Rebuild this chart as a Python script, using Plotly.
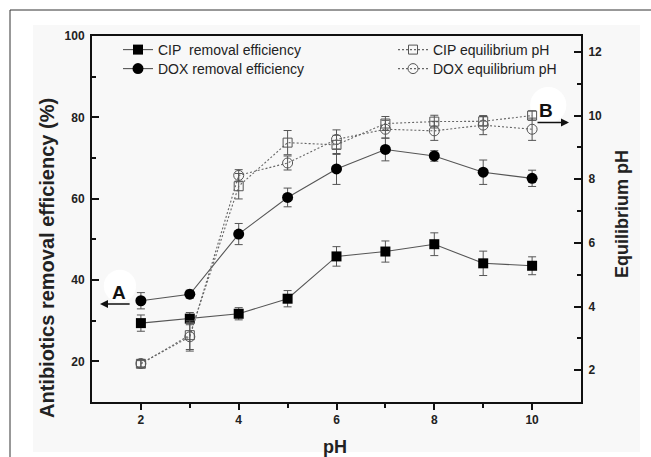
import plotly.graph_objects as go

ph = [2, 3, 4, 5, 6, 7, 8, 9, 10]

cip_removal = [29.4, 30.5, 31.7, 35.4, 45.8, 47.0, 48.8, 44.1, 43.5]
cip_removal_err = [2.0, 1.5, 1.5, 2.0, 2.4, 2.6, 2.8, 3.0, 2.2]
dox_removal = [34.9, 36.5, 51.3, 60.3, 67.3, 72.1, 70.5, 66.5, 65.0]
dox_removal_err = [2.0, 1.0, 2.6, 2.3, 3.8, 2.8, 1.3, 3.0, 2.0]

cip_eq = [2.2, 3.1, 7.78, 9.15, 9.08, 9.75, 9.81, 9.82, 10.0]
cip_eq_err = [0.1, 0.45, 0.4, 0.38, 0.3, 0.22, 0.2, 0.15, 0.15]
dox_eq = [2.21, 3.05, 8.12, 8.51, 9.25, 9.57, 9.52, 9.70, 9.57]
dox_eq_err = [0.12, 0.45, 0.18, 0.22, 0.3, 0.28, 0.3, 0.3, 0.35]

x_ticks = [2, 4, 6, 8, 10]
left_ticks = [20, 40, 60, 80, 100]
right_ticks = [2, 4, 6, 8, 10, 12]

GRAY = "#555555"
BG = "#f8f8f8"

fig = go.Figure()

def err(vals):
    return dict(type="data", array=vals, visible=True, color=GRAY, thickness=1, width=4)

fig.add_trace(go.Scatter(
    x=ph, y=cip_removal, error_y=err(cip_removal_err), mode="lines+markers",
    name="CIP\u00a0 removal efficiency", legend="legend",
    line=dict(color=GRAY, width=1.1),
    marker=dict(symbol="square", size=10, color="black"),
))
fig.add_trace(go.Scatter(
    x=ph, y=dox_removal, error_y=err(dox_removal_err), mode="lines+markers",
    name="DOX removal efficiency", legend="legend2",
    line=dict(color=GRAY, width=1.1),
    marker=dict(symbol="circle", size=11, color="black"),
))
fig.add_trace(go.Scatter(
    x=ph, y=cip_eq, error_y=err(cip_eq_err), mode="lines+markers", yaxis="y2",
    name="CIP equilibrium pH", legend="legend3",
    line=dict(color="#666666", width=1.1, dash="2px,2px"),
    marker=dict(symbol="square-open", size=9, color="#555555", line=dict(width=1)),
))
fig.add_trace(go.Scatter(
    x=ph, y=dox_eq, error_y=err(dox_eq_err), mode="lines+markers", yaxis="y2",
    name="DOX equilibrium pH", legend="legend4",
    line=dict(color="#666666", width=1.1, dash="2px,2px"),
    marker=dict(symbol="circle-open", size=10, color="#555555", line=dict(width=1)),
))

tickfont = dict(family="Arial", size=12, color="#222", weight="bold")


def leg(x_px, top_px):
    return dict(x=(x_px - 92) / 489, y=1 - (top_px - 36) / 366, xanchor="left", yanchor="top",
                bgcolor="rgba(0,0,0,0)", font=dict(family="Arial", size=14, color="#222"),
                itemwidth=30)


fig.update_layout(
    width=651, height=457,
    margin=dict(l=92, r=70, t=36, b=55),
    paper_bgcolor="white", plot_bgcolor=BG,
    font=dict(family="Arial", color="#222"),
    xaxis=dict(range=[1, 11], tickvals=x_ticks, ticks="outside", ticklen=6, tickwidth=2,
               tickcolor="#111", showline=True, linewidth=2, linecolor="#111", mirror=True,
               showgrid=False, zeroline=False, tickfont=tickfont,
               minor=dict(tickvals=[3, 5, 7, 9], ticks="outside", ticklen=4, tickwidth=2,
                          tickcolor="#111", showgrid=False)),
    yaxis=dict(range=[10, 100], tickvals=left_ticks, ticks="inside", ticklen=7, tickwidth=2,
               tickcolor="#111", showline=True, linewidth=2, linecolor="#111",
               showgrid=False, zeroline=False, tickfont=tickfont, ticklabelstandoff=3,
               minor=dict(tickvals=[30, 50, 70, 90], ticks="inside", ticklen=4, tickwidth=2,
                          tickcolor="#111", showgrid=False)),
    yaxis2=dict(range=[1, 12.5], overlaying="y", side="right", tickvals=right_ticks,
                ticks="inside", ticklen=7, tickwidth=2, tickcolor="#111",
                showline=True, linewidth=2, linecolor="#111",
                showgrid=False, zeroline=False, tickfont=tickfont, ticklabelstandoff=3,
                minor=dict(tickvals=[3, 5, 7, 9, 11], ticks="inside", ticklen=4, tickwidth=2,
                           tickcolor="#111", showgrid=False)),
    legend=leg(118, 34),
    legend2=leg(118, 53),
    legend3=leg(393, 34),
    legend4=leg(393, 53),
    showlegend=True,
)

# page background panel and outer frame
fig.add_shape(type="rect", xref="paper", yref="paper",
              x0=(33 - 92) / 489, x1=(640 - 92) / 489,
              y0=1 - (452 - 36) / 366, y1=1 + (36 - 25) / 366,
              fillcolor=BG, line=dict(width=0), layer="below")
fig.add_shape(type="line", xref="paper", yref="paper",
              x0=(10 - 92) / 489, x1=1.3, y0=1 + (36 - 10) / 366, y1=1 + (36 - 10) / 366,
              line=dict(color="#333", width=1))
fig.add_shape(type="line", xref="paper", yref="paper",
              x0=(10 - 92) / 489, x1=(10 - 92) / 489, y0=-0.3, y1=1 + (36 - 10) / 366,
              line=dict(color="#333", width=1))

# white blobs behind A and B
fig.add_shape(type="circle", xref="x", yref="y",
              x0=1.571 - 0.33, x1=1.571 + 0.33, y0=38.5 - 4.0, y1=38.5 + 4.0,
              fillcolor="white", line=dict(width=0), layer="below")
fig.add_shape(type="circle", xref="x", yref="y2",
              x0=10.33 - 0.37, x1=10.33 + 0.37, y0=10.33 - 0.57, y1=10.33 + 0.57,
              fillcolor="white", line=dict(width=0), layer="below")

# A / B labels and arrows
fig.add_annotation(x=1.55, y=36.9, xref="x", yref="y", text="<b>A</b>", showarrow=False,
                   font=dict(family="Arial", size=19, color="#111"))
fig.add_annotation(x=1.163, y=34.1, xref="x", yref="y", ax=1.80, ay=34.1, axref="x", ayref="y",
                   text="", showarrow=True, arrowhead=2, arrowsize=1, arrowwidth=1.6,
                   arrowcolor="#111")
fig.add_annotation(x=10.29, y=10.15, xref="x", yref="y2", text="<b>B</b>", showarrow=False,
                   font=dict(family="Arial", size=19, color="#111"))
fig.add_annotation(x=10.755, y=9.78, xref="x", yref="y2", ax=10.08, ay=9.78, axref="x", ayref="y2",
                   text="", showarrow=True, arrowhead=2, arrowsize=1, arrowwidth=1.6,
                   arrowcolor="#111")

# axis titles
fig.add_annotation(x=(47 - 92) / 489, y=1 - (258 - 36) / 366, xref="paper", yref="paper",
                   xanchor="center", yanchor="middle",
                   text="<b>Antibiotics removal efficiency (%)</b>", textangle=-90,
                   showarrow=False, font=dict(family="Arial", size=20, color="#222"))
fig.add_annotation(x=(622 - 92) / 489, y=1 - (214 - 36) / 366, xref="paper", yref="paper",
                   xanchor="center", yanchor="middle",
                   text="<b>Equilibrium pH</b>", textangle=-90,
                   showarrow=False, font=dict(family="Arial", size=18, color="#222"))
fig.add_annotation(x=(335 - 92) / 489, y=1 - (447 - 36) / 366, xref="paper", yref="paper",
                   xanchor="center", yanchor="middle",
                   text="<b>pH</b>", showarrow=False,
                   font=dict(family="Arial", size=18, color="#222"))

fig.write_html("out.html")
